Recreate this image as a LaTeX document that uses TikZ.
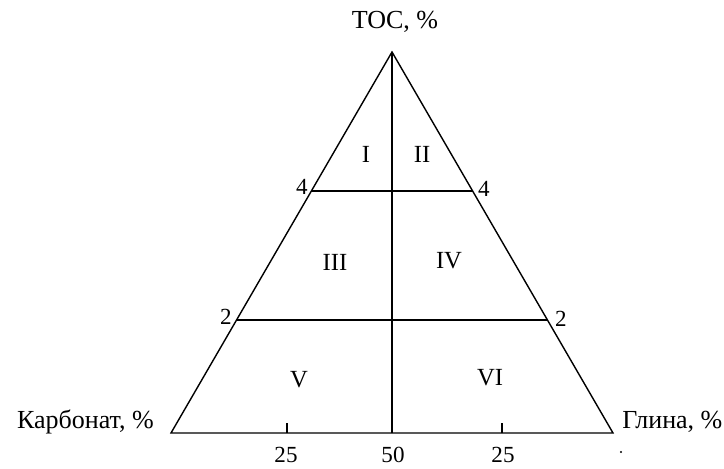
\documentclass[tikz,border=0pt]{standalone}
\usepackage{fontspec}
\setmainfont{Liberation Serif}
\usetikzlibrary{calc}

\begin{document}
\begin{tikzpicture}[
  x=0.025cm, y=-0.025cm,
  side/.style={draw=black, line width=1pt},
  axlbl/.style={inner sep=0pt, font=\fontsize{18.5}{22}\selectfont},
  num/.style={inner sep=0pt, font=\fontsize{16.4}{19}\selectfont},
  zone/.style={inner sep=0pt, font=\fontsize{17.5}{20}\selectfont}
]
\useasboundingbox (0,0) rectangle (724,468);

% Corners
\coordinate (top) at (392,52);
\coordinate (left) at (171,433);
\coordinate (right) at (613,433);
\coordinate (mid) at (392,433);

% Levels on the sides
\coordinate (l4) at ($(left)!0.635!(top)$);
\coordinate (r4) at ($(right)!0.635!(top)$);
\coordinate (l2) at ($(left)!0.297!(top)$);
\coordinate (r2) at ($(right)!0.297!(top)$);

% Ticks on the base
\coordinate (tl) at (287,433);
\coordinate (tr) at (502,433);

% Triangle
\draw[side] (left) -- (top) -- (right) -- cycle;
\draw[side] (top) -- (mid);
\draw[side] (l4) -- (r4);
\draw[side] (l2) -- (r2);
\draw[side] (tl) -- ++(0,-10);
\draw[side] (tr) -- ++(0,-10);

% Axis labels
\node[axlbl, anchor=base] (toc) at (395,28) {TOC, \%};
\node[axlbl, anchor=base east] (carb) at (154,428) {Карбонат, \%};
\node[axlbl, anchor=base west] (clay) at (622,428) {Глина, \%};

% Level labels
\node[num] (n4l) at (302,187) {4};
\node[num] (n4r) at (484,189) {4};
\node[num] (n2l) at (226,317) {2};
\node[num] (n2r) at (561,319) {2};

% Base labels
\node[num, anchor=base] (b25l) at (286,462) {25};
\node[num, anchor=base] (b50) at (393,462) {50};
\node[num, anchor=base] (b25r) at (503,462) {25};

% Zones
\node[zone] (z1) at (366,154) {I};
\node[zone] (z2) at (422,154) {II};
\node[zone] (z3) at (335,262) {III};
\node[zone] (z4) at (449,261) {IV};
\node[zone] (z5) at (299,380) {V};
\node[zone] (z6) at (490,378) {VI};

\fill (621,452) circle (1.2);

\end{tikzpicture}
\end{document}
